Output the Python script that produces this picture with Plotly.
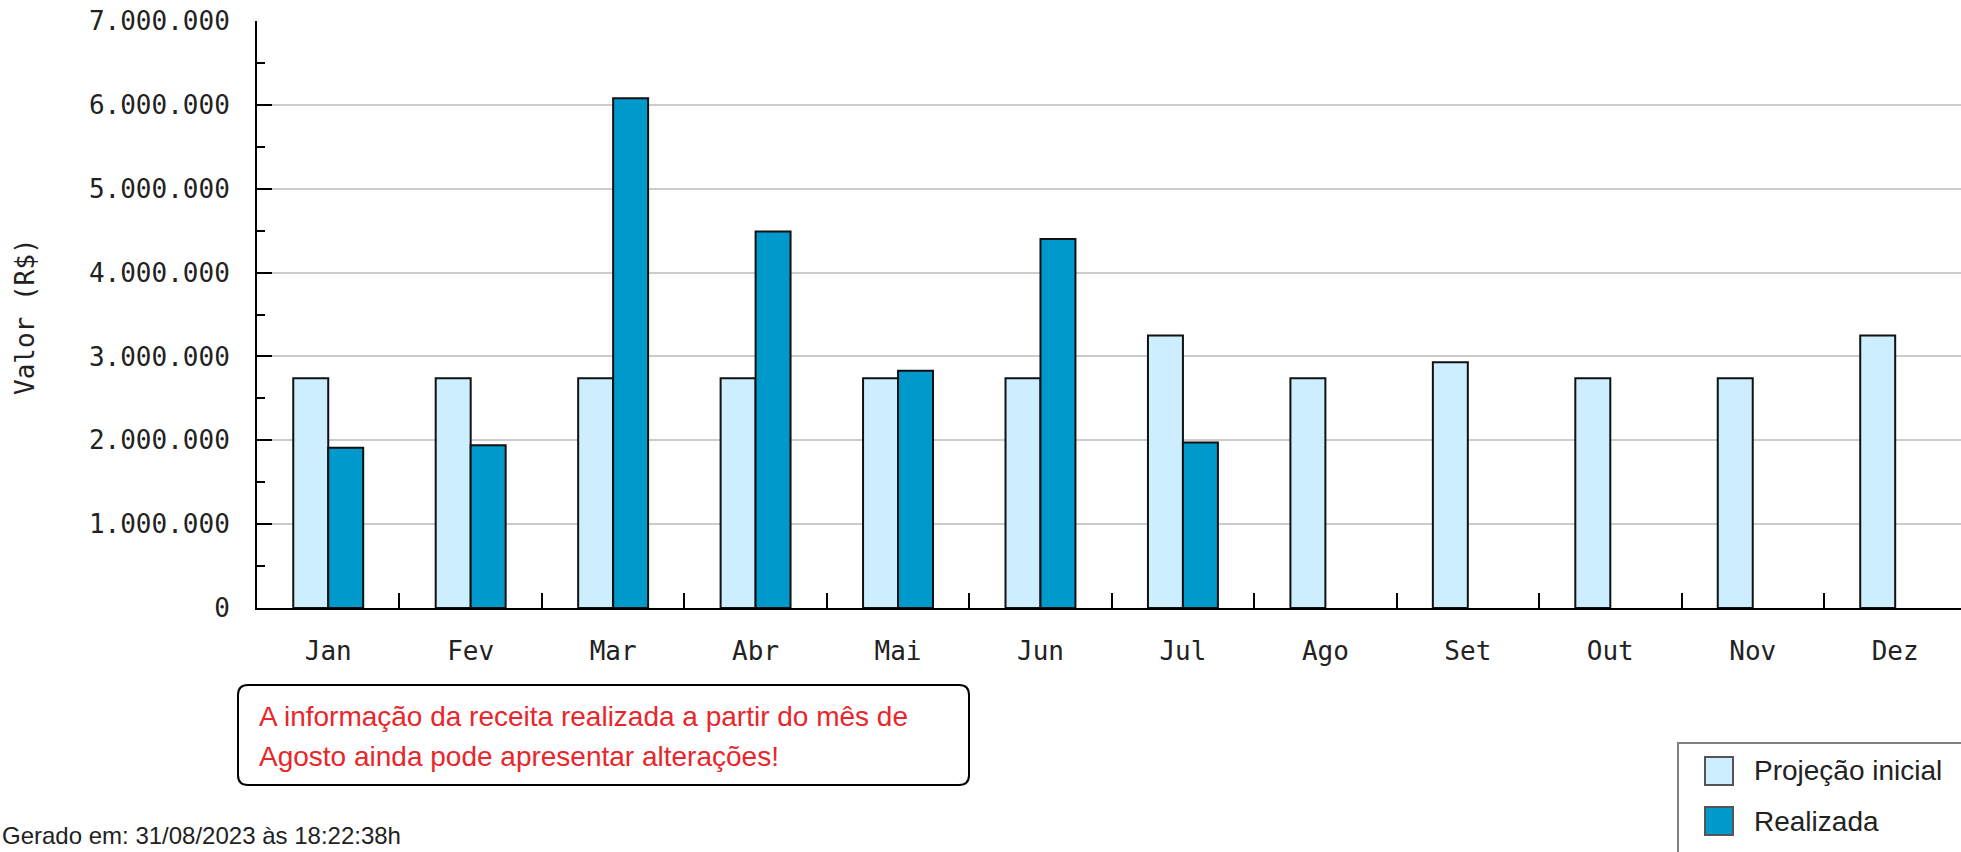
import plotly.graph_objects as go

# ---- data ----
months = ["Jan", "Fev", "Mar", "Abr", "Mai", "Jun", "Jul", "Ago", "Set", "Out", "Nov", "Dez"]
projecao = [2740000, 2740000, 2740000, 2740000, 2740000, 2740000,
            3250000, 2740000, 2930000, 2740000, 2740000, 3250000]
realizada = [1910000, 1940000, 6080000, 4490000, 2830000, 4400000,
             1975000, None, None, None, None, None]
y_ticks = [0, 1000000, 2000000, 3000000, 4000000, 5000000, 6000000, 7000000]

# ---- geometry (pixels) ----
W, H = 1961, 852
L, T = 257, 21
BASE = 608
PW = W - L
PH = BASE - T


def xp(px):
    return (px - L) / PW


def yp(py):
    return (BASE - py) / PH


MONO = "DejaVu Sans Mono"
SANS = "Liberation Sans, Arial, sans-serif"
C_PROJ = "#cceeff"
C_REAL = "#0099cc"

fig = go.Figure()
fig.add_bar(x=months, y=projecao, name="Projeção inicial",
            marker=dict(color=C_PROJ, line=dict(color="#111111", width=2)))
fig.add_bar(x=months, y=realizada, name="Realizada",
            marker=dict(color=C_REAL, line=dict(color="#111111", width=2)))

fig.update_layout(
    width=W, height=H,
    margin=dict(l=L, r=0, t=T, b=H - BASE, pad=0),
    paper_bgcolor="white", plot_bgcolor="white",
    barmode="group", bargap=0.509, bargroupgap=0,
    separators=",.",
    showlegend=False,
    xaxis=dict(
        type="category", range=[-0.5, 11.462],
        showline=True, linecolor="black", linewidth=2,
        ticks="inside", tickson="boundaries", ticklen=15, tickwidth=2, tickcolor="black",
        showgrid=False, zeroline=False,
        tickfont=dict(family=MONO, size=26, color="#222222"),
        ticklabelstandoff=19,
    ),
    yaxis=dict(
        range=[0, 7000000], tickvals=y_ticks, tickformat=",d",
        showline=True, linecolor="black", linewidth=2,
        ticks="inside", ticklen=15, tickwidth=2, tickcolor="black",
        showgrid=True, gridcolor="#cccccc", gridwidth=2, zeroline=False,
        minor=dict(ticks="inside", ticklen=8, tickwidth=2, tickcolor="black",
                   dtick=500000, tick0=0, showgrid=False),
        tickfont=dict(family=MONO, size=26, color="#222222"),
        ticklabelstandoff=20,
    ),
)

annotations = []
shapes = []

# y-axis title
annotations.append(dict(text="Valor (R$)", x=xp(25), y=yp(317), xref="paper", yref="paper",
                        xanchor="center", yanchor="middle",
                        showarrow=False, textangle=-90,
                        font=dict(family=MONO, size=26, color="#222222")))

# note box (rounded rectangle)
x0, x1, y0, y1, r = 238, 969, 685, 785, 10
path = (f"M {xp(x0 + r)},{yp(y0)} L {xp(x1 - r)},{yp(y0)} "
        f"Q {xp(x1)},{yp(y0)} {xp(x1)},{yp(y0 + r)} "
        f"L {xp(x1)},{yp(y1 - r)} Q {xp(x1)},{yp(y1)} {xp(x1 - r)},{yp(y1)} "
        f"L {xp(x0 + r)},{yp(y1)} Q {xp(x0)},{yp(y1)} {xp(x0)},{yp(y1 - r)} "
        f"L {xp(x0)},{yp(y0 + r)} Q {xp(x0)},{yp(y0)} {xp(x0 + r)},{yp(y0)} Z")
shapes.append(dict(type="path", path=path, xref="paper", yref="paper",
                   line=dict(color="black", width=2), fillcolor="white"))
RED = "#e8262b"
annotations.append(dict(text="A informação da receita realizada a partir do mês de",
                        x=xp(257), y=yp(716), xref="paper", yref="paper",
                        xanchor="left", yanchor="middle",
                        showarrow=False, font=dict(family=SANS, size=28, color=RED)))
annotations.append(dict(text="Agosto ainda pode apresentar alterações!",
                        x=xp(257), y=yp(756), xref="paper", yref="paper",
                        xanchor="left", yanchor="middle",
                        showarrow=False, font=dict(family=SANS, size=28, color=RED)))

# legend
shapes.append(dict(type="rect", xref="paper", yref="paper",
                   x0=xp(1678), x1=xp(1990), y0=yp(743), y1=yp(880),
                   line=dict(color="#808080", width=2), fillcolor="white"))
for i, (name, col) in enumerate([("Projeção inicial", C_PROJ), ("Realizada", C_REAL)]):
    top = 757 + i * 50
    shapes.append(dict(type="rect", xref="paper", yref="paper",
                       x0=xp(1705), x1=xp(1733), y0=yp(top), y1=yp(top + 28),
                       line=dict(color="#555555", width=2), fillcolor=col))
    annotations.append(dict(text=name, x=xp(1752), y=yp(top + 14), xref="paper", yref="paper",
                            xanchor="left", yanchor="middle", showarrow=False,
                            font=dict(family=SANS, size=28, color="#222222")))

# footer
annotations.append(dict(text="Gerado em: 31/08/2023 às 18:22:38h", x=xp(0), y=yp(835),
                        xref="paper", yref="paper", xanchor="left", yanchor="middle",
                        showarrow=False,
                        font=dict(family=SANS, size=24, color="#222222")))

fig.update_layout(annotations=annotations, shapes=shapes)
fig.write_html("out.html", config={"displayModeBar": False},
               post_script="document.body.style.margin='0';document.body.style.overflow='hidden';")
